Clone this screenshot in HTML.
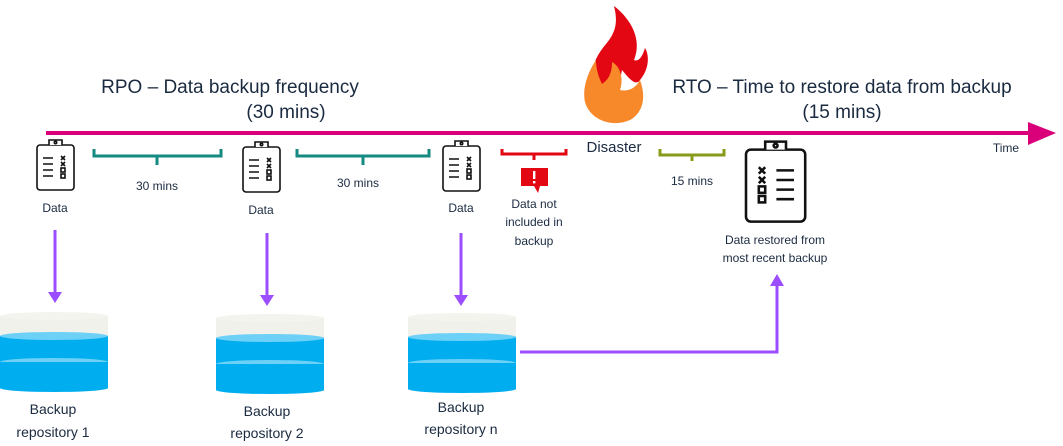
<!DOCTYPE html>
<html><head><meta charset="utf-8"><style>
html,body{margin:0;padding:0;background:#fff;}
svg{display:block;font-family:"Liberation Sans",sans-serif;}
</style></head><body>
<svg width="1063" height="446" viewBox="0 0 1063 446" xmlns="http://www.w3.org/2000/svg">
<defs>
<g id="cyl">
  <rect x="0" y="4" width="108" height="20" fill="#f1f1ec"/>
  <ellipse cx="54" cy="4" rx="54" ry="4" fill="#f4f4ef"/>
  <rect x="0" y="24" width="108" height="52" fill="#00aeef"/>
  <ellipse cx="54" cy="76" rx="54" ry="4" fill="#00aeef"/>
  <ellipse cx="54" cy="24" rx="54" ry="4" fill="#6dd0f7"/>
  <ellipse cx="54" cy="50" rx="54" ry="4" fill="#6dd0f7"/>
  <rect x="0" y="50" width="108" height="4" fill="#00aeef"/>
</g>
<g id="clip" fill="none" stroke="#111" stroke-width="1.6">
  <rect x="0" y="6" width="37" height="45" rx="3"/>
  <path d="M12 6 V1 H25 V6" fill="#fff"/>
  <circle cx="18.5" cy="3.5" r="1.2"/>
  <path d="M6 19h10M6 25h10M6 31h10M6 37h10"/>
  <path d="M24 17l4 4M28 17l-4 4M24 23l4 4M28 23l-4 4"/>
  <rect x="24" y="29" width="4" height="4"/><rect x="24" y="35" width="4" height="4"/>
</g>
<g id="clip2" fill="none" stroke="#111" stroke-width="1.6">
  <rect x="0" y="6" width="37" height="45" rx="3"/>
  <path d="M12 6 V1 H25 V6" fill="#fff"/>
  <circle cx="18.5" cy="3.5" r="1.2"/>
  <path d="M19 19h11M19 25h11M19 31h11M19 37h11"/>
  <path d="M8 17l4 4M12 17l-4 4M8 23l4 4M12 23l-4 4"/>
  <rect x="8" y="29" width="4" height="4"/><rect x="8" y="35" width="4" height="4"/>
</g>
</defs>

<g fill="#1a2a40" font-size="19" text-anchor="middle">
<text x="230" y="93">RPO – Data backup frequency</text>
<text x="286" y="118">(30 mins)</text>
<text x="842" y="93">RTO – Time to restore data from backup</text>
<text x="842" y="118">(15 mins)</text>
</g>

<!-- flame -->
<path d="M614 6 C618 22 616 32 606 44 C594 58 588 74 596 88 C602 96 612 94 618 90 L622 70 C630 80 636 86 640 80 C650 68 649 54 645 48 C642 58 638 62 634 60 C642 40 632 20 614 6Z" fill="#e30613"/>
<path d="M596 60 C588 72 582 88 585 102 C590 120 612 128 630 120 C644 112 646 96 640 80 C636 88 628 92 620 90 C624 78 620 66 612 62 C612 74 608 80 602 84 C598 76 596 68 596 60Z" fill="#f7892b"/>

<rect x="46" y="131" width="986" height="4" fill="#d9007a"/>
<path d="M1028 122 L1056 133 L1028 145 Z" fill="#d9007a"/>
<text x="1006" y="152" font-size="12" fill="#1a2a40" text-anchor="middle">Time</text>
<text x="614" y="152" font-size="15" fill="#1a2a40" text-anchor="middle">Disaster</text>

<use href="#clip" x="37" y="139"/>
<use href="#clip" x="243" y="141"/>
<use href="#clip" x="443" y="140"/>
<g transform="translate(746,140) scale(1.6)"><use href="#clip2"/></g>

<g fill="#1a2a40" font-size="12" text-anchor="middle">
<text x="55" y="212">Data</text>
<text x="261" y="214">Data</text>
<text x="461" y="212">Data</text>
<text x="157" y="190">30 mins</text>
<text x="358" y="187">30 mins</text>
<text x="692" y="185">15 mins</text>
<text x="534" y="208">Data not</text>
<text x="534" y="226">included in</text>
<text x="534" y="245">backup</text>
<text x="775" y="244">Data restored from</text>
<text x="775" y="262">most recent backup</text>
</g>

<g fill="none" stroke-width="3">
<path d="M94 149 V156 H221 V149 M157 156 V165" stroke="#148a80"/>
<path d="M297 149 V156 H429 V149 M363 156 V165" stroke="#148a80"/>
<path d="M502 149 V154 H566 V149 M534 154 V160" stroke="#e30613"/>
<path d="M660 149 V155 H724 V149 M692 155 V161" stroke="#8a9a1a"/>
</g>
<path d="M521 168 H548 V186 H540 L538 193 L534 186 H521 Z" fill="#e30613"/>
<rect x="533" y="171" width="2.4" height="8" fill="#fff"/>
<rect x="533" y="181" width="2.4" height="2.4" fill="#fff"/>

<g stroke="#9b4dff" stroke-width="3" fill="none">
<path d="M55 230 V294"/><path d="M267 233 V297"/><path d="M461 233 V297"/>
<path d="M520 352 H777 V284"/>
</g>
<g fill="#9b4dff">
<path d="M48 292 L55 303 L62 292Z"/><path d="M260 295 L267 306 L274 295Z"/>
<path d="M454 295 L461 306 L468 295Z"/><path d="M770 286 L777 274 L784 286Z"/>
</g>

<use href="#cyl" x="0" y="312"/>
<use href="#cyl" x="216" y="314"/>
<use href="#cyl" x="408" y="313"/>

<g fill="#1a2a40" font-size="14" text-anchor="middle">
<text x="53" y="414">Backup</text><text x="53" y="437">repository 1</text>
<text x="267" y="416">Backup</text><text x="267" y="438">repository 2</text>
<text x="461" y="412">Backup</text><text x="461" y="434">repository n</text>
</g>
</svg>
</body></html>
